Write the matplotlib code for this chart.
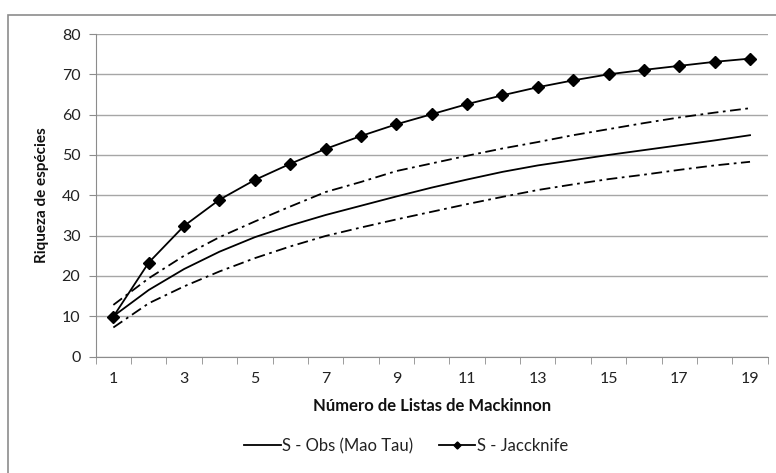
import numpy as np
import matplotlib; matplotlib.use("Agg")
import matplotlib.pyplot as plt
from matplotlib.patches import Rectangle

plt.rcParams["font.family"] = ["Lato", "DejaVu Sans"]

listas = list(range(1, 20))
mao_tau = [10.0, 16.5, 21.7, 26.0, 29.6, 32.5, 35.1, 37.4, 39.7, 41.9, 43.9, 45.8, 47.4,
           48.7, 50.0, 51.2, 52.4, 53.6, 54.9]
mao_tau_sup = [12.8, 19.4, 25.0, 29.6, 33.5, 37.2, 40.8, 43.3, 46.0, 47.9, 49.8, 51.6, 53.2,
               54.9, 56.4, 57.9, 59.3, 60.5, 61.6]
mao_tau_inf = [7.2, 13.2, 17.4, 21.1, 24.4, 27.3, 29.9, 32.0, 34.0, 35.9, 37.8, 39.6, 41.3,
               42.7, 44.0, 45.1, 46.3, 47.4, 48.3]
jackknife = [9.9, 23.3, 32.4, 38.9, 43.8, 47.8, 51.5, 54.7, 57.6, 60.1, 62.6, 64.8, 66.8,
             68.5, 70.0, 71.1, 72.1, 73.1, 73.9]

fig = plt.figure(figsize=(7.76, 4.73), dpi=100)
ax = fig.add_axes([0.1233, 0.2463, 0.866, 0.6818])
fig.patches.append(Rectangle((8 / 776, -0.05), 1.2, 0.05 + 1 - 15 / 473, transform=fig.transFigure,
                             fill=False, edgecolor="#8c8c8c", lw=1.2, zorder=0))

dd = (0, (6, 2.5, 1.5, 2.5))
ax.plot(listas, mao_tau_sup, color="black", lw=1.3, ls=dd)
ax.plot(listas, mao_tau_inf, color="black", lw=1.3, ls=dd)
ax.plot(listas, mao_tau, color="black", lw=1.3, label="S - Obs (Mao Tau)")
ax.plot(listas, jackknife, color="black", lw=1.3, marker="D", ms=6.5, label="S - Jaccknife")

ax.set_xlim(0.5, 19.5)
ax.set_ylim(0, 80)
ax.set_yticks(range(0, 81, 10))
ax.set_xticks(listas[::2])
ax.set_xticks(np.arange(0.5, 20, 1), minor=True)
ax.tick_params(axis="x", which="major", length=0, pad=11, labelsize=11.5, colors="#222")
ax.tick_params(axis="x", which="minor", length=5, color="#8c8c8c", direction="out")
ax.tick_params(axis="y", length=5, labelsize=11.5, colors="#222", pad=6)
ax.tick_params(axis="y", color="#8c8c8c")
ax.grid(axis="y", color="#a6a6a6", lw=1.0)
ax.set_axisbelow(True)
for s in ["top", "right"]:
    ax.spines[s].set_visible(False)
for s in ["left", "bottom"]:
    ax.spines[s].set_color("#8c8c8c")

ax.set_xlabel("Número de Listas de Mackinnon", fontsize=12, fontweight="bold", color="#111", labelpad=9)
ax.set_ylabel("Riqueza de espécies", fontsize=11, fontweight="bold", color="#111", labelpad=9)

leg = ax.legend(loc="center", bbox_to_anchor=(0.462, -0.278), ncol=2, frameon=False,
                fontsize=12, handlelength=2.2, columnspacing=1.5, handletextpad=0.1,
                markerscale=0.55)
for t in leg.get_texts():
    t.set_color("#222")

fig.savefig("out.png", dpi=100)
